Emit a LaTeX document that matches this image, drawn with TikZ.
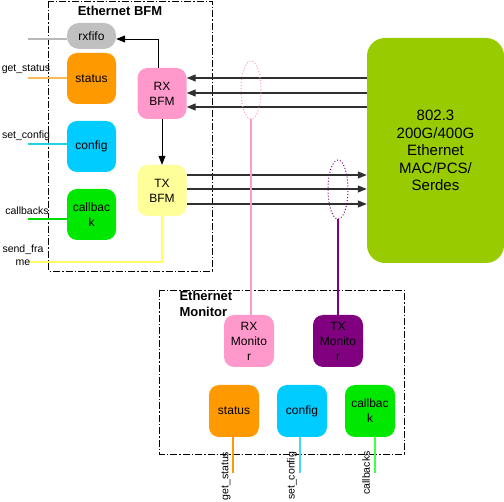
\documentclass[tikz,border=0pt]{standalone}
\usepackage{fontspec}
\setmainfont{Liberation Sans}
\usetikzlibrary{arrows.meta,shapes.geometric}
\definecolor{cgray}{HTML}{C0C0C0}
\definecolor{corange}{HTML}{FF9900}
\definecolor{ccyan}{HTML}{00CCFF}
\definecolor{cgreen}{HTML}{00E800}
\definecolor{cpink}{HTML}{FF99CC}
\definecolor{cyellow}{HTML}{FFFF99}
\definecolor{cpurple}{HTML}{800080}
\definecolor{cmac}{HTML}{99CC00}
\definecolor{busgray}{HTML}{303030}
\definecolor{lgray}{HTML}{B8B8B8}
\definecolor{lorange}{HTML}{FFBB55}
\definecolor{lcyan}{HTML}{22D0E0}
\definecolor{lgreen}{HTML}{00DD00}
\definecolor{lyellow}{HTML}{FFFF66}
\definecolor{lpink}{HTML}{FF9ACC}
\definecolor{bcyan}{HTML}{44D8EE}
\definecolor{bgreen}{HTML}{44FF44}
\begin{document}
\begin{tikzpicture}[x=1pt,y=-1pt,
  blk/.style={rectangle, rounded corners=10pt, minimum width=49pt, minimum height=51pt, inner sep=1pt, align=center, font=\fontsize{12}{15}\selectfont},
  frame/.style={draw=black, line width=0.9pt, dash pattern=on 7pt off 2pt on 1.5pt off 2pt},
  title/.style={font=\fontsize{13}{16}\selectfont\bfseries, align=left},
  lbl/.style={font=\fontsize{10.5}{13}\selectfont, align=center, inner sep=0pt},
  bus/.style={draw=busgray, line width=1.2pt, -{Triangle[length=9pt,width=7pt]}},
  arr/.style={draw=black, line width=0.9pt, -{Triangle[length=9pt,width=7pt]}},
  sig/.style={line width=1.4pt}
]
\useasboundingbox (0,0) rectangle (504,502);

% frames
\draw[frame] (48,1) rectangle (212,271);
\draw[frame] (159,290) rectangle (404,454);
\node[title] (tbfm) at (120,11) {Ethernet BFM};
\node[title, anchor=west] (tmon) at (176,304) {Ethernet\\Monitor};

% BFM blocks
\node[blk, fill=cgray, minimum height=26pt, rounded corners=12pt] (rxfifo) at (91.5,36) {rxfifo};
\node[blk, fill=corange] (st1) at (91.5,78.5) {status};
\node[blk, fill=ccyan] (cf1) at (91.5,146.5) {config};
\node[blk, fill=cgreen] (cb1) at (91.5,214.5) {callbac\\k};
\node[blk, fill=cpink] (rxbfm) at (162,93.5) {RX\\BFM};
\node[blk, fill=cyellow] (txbfm) at (162,190.5) {TX\\BFM};

% MAC
\node[rectangle, rounded corners=18pt, fill=cmac, minimum width=137pt, minimum height=225pt, align=center, font=\fontsize{15}{17.5}\selectfont] (mac) at (435.5,150.5) {802.3\\200G/400G\\Ethernet\\MAC/PCS/\\Serdes};

% monitor blocks
\node[blk, fill=cpink, minimum width=50pt, minimum height=52pt] (rxmon) at (249,341) {RX\\Monito\\r};
\node[blk, fill=cpurple, minimum width=50pt, minimum height=52pt] (txmon) at (338,341) {TX\\Monito\\r};
\node[blk, fill=corange, minimum width=50pt, minimum height=52pt] (st2) at (234,411) {status};
\node[blk, fill=ccyan, minimum width=50pt, minimum height=52pt] (cf2) at (302,411) {config};
\node[blk, fill=cgreen, minimum width=50pt, minimum height=52pt] (cb2) at (370,411) {callbac\\k};

% left labels
\node[lbl] (lgs) at (26,69) {get\_status};
\node[lbl] (lsc) at (26,136) {set\_config};
\node[lbl] (lcb) at (27,211) {callbacks};
\node[lbl] (lsf) at (23,255.5) {send\_fra\\me};

% left signal lines
\coordinate (a1) at (28,39);
\coordinate (a2) at (28,78);
\coordinate (a3) at (28,144);
\coordinate (a4) at (28,219);
\coordinate (a5) at (30,262);
\draw[sig, draw=lgray] (a1) -- (a1 -| rxfifo.west);
\draw[sig, draw=lorange] (a2) -- (a2 -| st1.west);
\draw[sig, draw=lcyan] (a3) -- (a3 -| cf1.west);
\draw[sig, draw=lgreen] (a4) -- (a4 -| cb1.west);
\draw[sig, draw=lyellow] (a5) -| (txbfm.south);

% internal arrows
\coordinate (rxt) at (158,68);
\draw[arr] (rxt) |- (rxfifo.east |- 0,39);
\draw[arr] (rxbfm.south -| 162,0) -- (txbfm.north -| 162,0);

% buses
\foreach \y in {78,93,107}{
  \draw[bus] (mac.west |- 0,\y) -- (rxbfm.east |- 0,\y);
}
\foreach \y in {175,189,204}{
  \draw[bus] (txbfm.east |- 0,\y) -- (mac.west |- 0,\y);
}

% ellipses
\node[draw=cpink, dotted, line width=1pt, ellipse, minimum width=20pt, minimum height=58pt, inner sep=0pt] (e1) at (251,90) {};
\node[draw=cpurple, dotted, line width=1pt, ellipse, minimum width=20pt, minimum height=59pt, inner sep=0pt] (e2) at (338,189.5) {};
\draw[sig, draw=lpink] (e1.south) -- (e1.south |- rxmon.north);
\draw[sig, draw=cpurple] (e2.south) -- (e2.south |- txmon.north);

% bottom lines and labels
\coordinate (b1) at (233,473);
\coordinate (b2) at (300,473);
\coordinate (b3) at (375,473);
\draw[sig, draw=corange] (st2.south -| b1) -- (b1);
\draw[sig, draw=bcyan] (cf2.south -| b2) -- (b2);
\draw[sig, draw=bgreen] (cb2.south -| b3) -- (b3);
\node[lbl, rotate=90] (bgs) at (226,476) {get\_status};
\node[lbl, rotate=90] (bsc) at (292,476) {set\_config};
\node[lbl, rotate=90] (bcb) at (366,473) {callbacks};
\end{tikzpicture}
\end{document}
